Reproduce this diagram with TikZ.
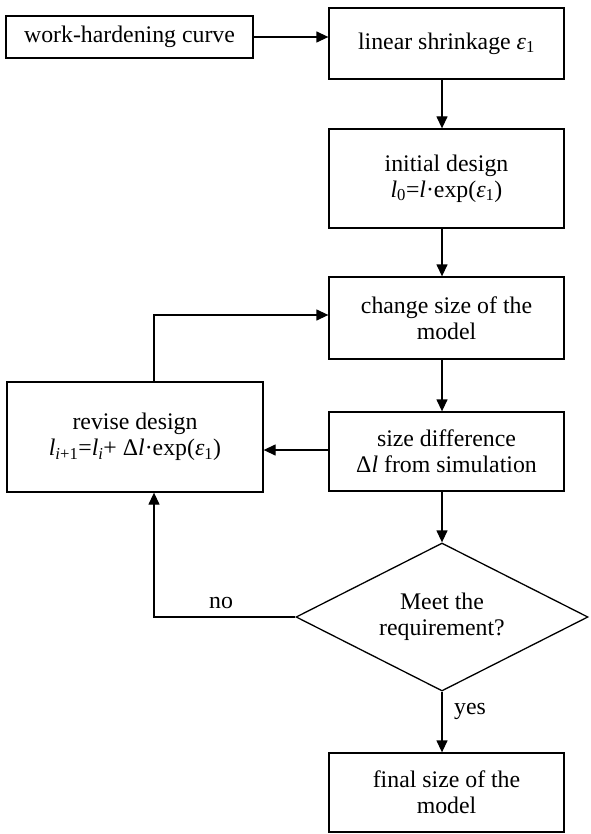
\documentclass[tikz,border=0pt]{standalone}
\usepackage{fontspec}
\setmainfont{Liberation Serif}
\usetikzlibrary{shapes.geometric,arrows.meta}
\begin{document}
\begin{tikzpicture}[x=1pt,y=-1pt,
  font=\fontsize{23.8}{26}\selectfont,
  box/.style={draw,line width=1.3pt,inner sep=0pt,align=center},
  conn/.style={line width=1.3pt,-{Triangle[length=12pt,width=11pt]}},
  lbl/.style={inner sep=0pt}]
\fill[white] (0,0) rectangle (590,834);
\useasboundingbox (0,0) rectangle (590,834);
\node[box,minimum width=247pt,minimum height=42pt] (work) at (129.5,37) {work-hardening curve};
\node[box,minimum width=235pt,minimum height=71pt] (lin) at (446.5,43.5) {linear shrinkage \textit{ε}\textsubscript{1}};
\node[box,minimum width=235pt,minimum height=99pt] (init) at (446.5,178.5) {initial design\\\textit{l}\textsubscript{0}=\textit{l}·exp(\textit{ε}\textsubscript{1})};
\node[box,minimum width=235pt,minimum height=82pt] (chg) at (446.5,318) {change size of the\\model};
\node[box,minimum width=235pt,minimum height=79pt] (sdiff) at (446.5,451.5) {size difference\\Δ\textit{l} from simulation};
\node[box,minimum width=256pt,minimum height=110pt] (rev) at (135,437) {revise design\\\textit{l}\textsubscript{\textit{i}+1}=\textit{l}\textsubscript{\textit{i}}+ Δ\textit{l}·exp(\textit{ε}\textsubscript{1})};
\node[box,shape=diamond,aspect=2,minimum width=292pt,minimum height=148pt] (dia) at (442,617) {Meet the\\requirement?};
\node[box,minimum width=235pt,minimum height=79pt] (fin) at (446.5,792.5) {final size of the\\model};
\node[lbl] (no) at (221,603) {no};
\node[lbl] (yes) at (470,711) {yes};
\draw[conn] (work.east) -- (work.east -| lin.west);
\draw[conn] (dia.north |- lin.south) -- (dia.north |- init.north);
\draw[conn] (dia.north |- init.south) -- (dia.north |- chg.north);
\draw[conn] (dia.north |- chg.south) -- (dia.north |- sdiff.north);
\draw[conn] (dia.north |- sdiff.south) -- (dia.north);
\draw[conn] (dia.south) -- (dia.south |- fin.north);
\draw[conn] (sdiff.west |- 0,450) -- (rev.east |- 0,450);
\draw[conn] ([xshift=19pt]rev.north) |- ([yshift=3pt]chg.west);
\draw[conn] (dia.west) -| ([xshift=19pt]rev.south);
\end{tikzpicture}
\end{document}
